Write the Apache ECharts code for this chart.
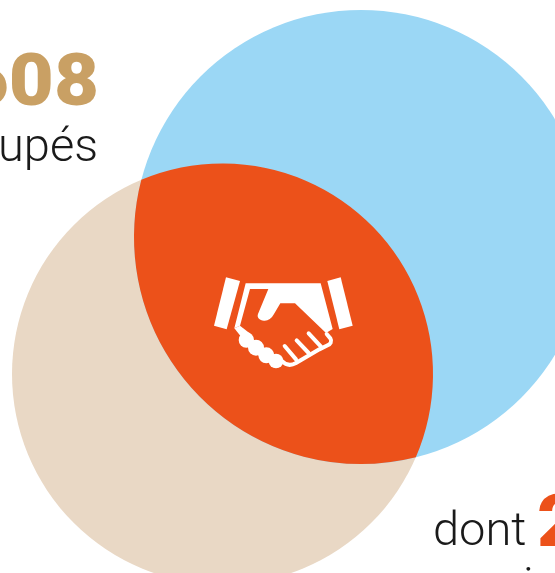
<!DOCTYPE html>
<html>
<head>
<meta charset="utf-8">
<style>html,body{margin:0;padding:0;background:#fff;overflow:hidden}#chart{width:555px;height:573px}</style>
<script src="https://cdn.jsdelivr.net/npm/echarts@6/dist/echarts.min.js"></script>
</head>
<body>
<div id="chart"></div>
<script>
// Two overlapping sets, given in plot units
var setNames = ['groupés', 'dont'];
var setCentreX = [222.5, 361];
var setCentreY = [374, 237];
var setRadius = [210.5, 227];

var setColours = ['#E9D8C5', '#9BD7F5'];
var overlapColour = '#EC511A';
var goldColour = '#C9A064';
var textColour = '#1A1A1A';

var chart = echarts.init(document.getElementById('chart'), null, { renderer: 'canvas' });

// Pixel centre and radius of one set
function circleOf(api, i) {
  var c = api.coord([setCentreX[i], setCentreY[i]]);
  return { x: c[0], y: c[1], r: api.size([setRadius[i], 0])[0] };
}

// The overlap outline: two arcs joining the points where the circles cross
function lensPath(a, b) {
  var dx = b.x - a.x, dy = b.y - a.y, d = Math.sqrt(dx * dx + dy * dy);
  var t = (a.r * a.r - b.r * b.r + d * d) / (2 * d);
  var h = Math.sqrt(a.r * a.r - t * t);
  var mx = a.x + t * dx / d, my = a.y + t * dy / d;
  var p = [mx + h * dy / d, my - h * dx / d];
  var q = [mx - h * dy / d, my + h * dx / d];
  return 'M' + p[0] + ' ' + p[1] +
    'A' + b.r + ' ' + b.r + ' 0 0 0 ' + q[0] + ' ' + q[1] +
    'A' + a.r + ' ' + a.r + ' 0 0 0 ' + p[0] + ' ' + p[1] + 'Z';
}

// Handshake pictogram, drawn in a 510×360 box
var white = '#FFFFFF';
function outline(d, w) {
  return { type: 'path', shape: { pathData: d }, style: { fill: 'none', stroke: white, lineWidth: w, lineJoin: 'round', lineCap: 'round' } };
}
function solid(d) {
  return { type: 'path', shape: { pathData: d }, style: { fill: white } };
}
function knuckle(x, y, r) {
  return { type: 'circle', shape: { cx: x, cy: y, r: r }, style: { fill: white } };
}
var handshake = [
  solid('M78 52L120 63L80 208L42 197Z'),
  solid('M382 63L422 52L458 197L418 208Z'),
  solid('M137 70L362 70L398 207L378 219L285 130L241 130L222 162C214 176 204 183 192 182C178 181 170 172 174 162L205 87L150 87L120 197L103 205Z'),
  solid('M103 205L120 197L152 222L128 236Z'),
  knuckle(139, 240, 23), knuckle(168, 263, 24), knuckle(199, 286, 24), knuckle(228, 303, 22),
  outline('M380 222L391 235C397 245 391 252 383 256L358 268L288 309C272 318 258 316 246 303', 12),
  outline('M326 220L363 260', 12),
  outline('M290 241L326 279', 12),
  outline('M254 258L288 298', 12)
];

var option = {
  animation: false,
  grid: { left: 0, right: 0, top: 0, bottom: 0 },
  xAxis: { type: 'value', min: 0, max: 555, show: false },
  yAxis: { type: 'value', min: 0, max: 573, inverse: true, show: false },
  series: [{
    type: 'custom',
    coordinateSystem: 'cartesian2d',
    clip: true,
    silent: true,
    data: setNames.map(function (n, i) { return [setCentreX[i], setCentreY[i], setRadius[i]]; }),
    renderItem: function (params, api) {
      var i = params.dataIndex;
      var c = circleOf(api, i);
      var children = [{
        type: 'circle',
        shape: { cx: c.x, cy: c.y, r: c.r },
        style: { fill: setColours[i] }
      }];
      // The overlap and the pictogram sit above the last set
      if (i === setNames.length - 1) {
        children.push({
          type: 'path',
          shape: { pathData: lensPath(circleOf(api, 0), c) },
          style: { fill: overlapColour }
        });
        children.push({
          type: 'group',
          x: api.coord([200, 0])[0],
          y: api.coord([0, 260])[1],
          scaleX: 1 / 3,
          scaleY: 1 / 3,
          children: handshake
        });
      }
      return { type: 'group', children: children };
    }
  }],
  graphic: { elements: [
    { type: 'text', x: 99, y: 123, scaleX: 1.08, style: { text: '608', fill: goldColour, font: '900 72px Roboto', textAlign: 'right', textVerticalAlign: 'bottom' } },
    { type: 'text', x: 98, y: 173, style: { text: 'groupés', fill: textColour, font: '300 47px Roboto', textAlign: 'right', textVerticalAlign: 'bottom' } },
    { type: 'text', x: 433, y: 557, style: { text: 'dont', fill: textColour, font: '300 47px Roboto', textAlign: 'left', textVerticalAlign: 'bottom' } },
    { type: 'text', x: 537, y: 564, scaleX: 1.08, style: { text: '2', fill: overlapColour, font: '900 72px Roboto', textAlign: 'left', textVerticalAlign: 'bottom' } },
    { type: 'text', x: 523, y: 612, style: { text: 'i', fill: textColour, font: '300 47px Roboto', textAlign: 'left', textVerticalAlign: 'bottom' } }
  ] }
};
chart.setOption(option);
</script>
</body>
</html>
